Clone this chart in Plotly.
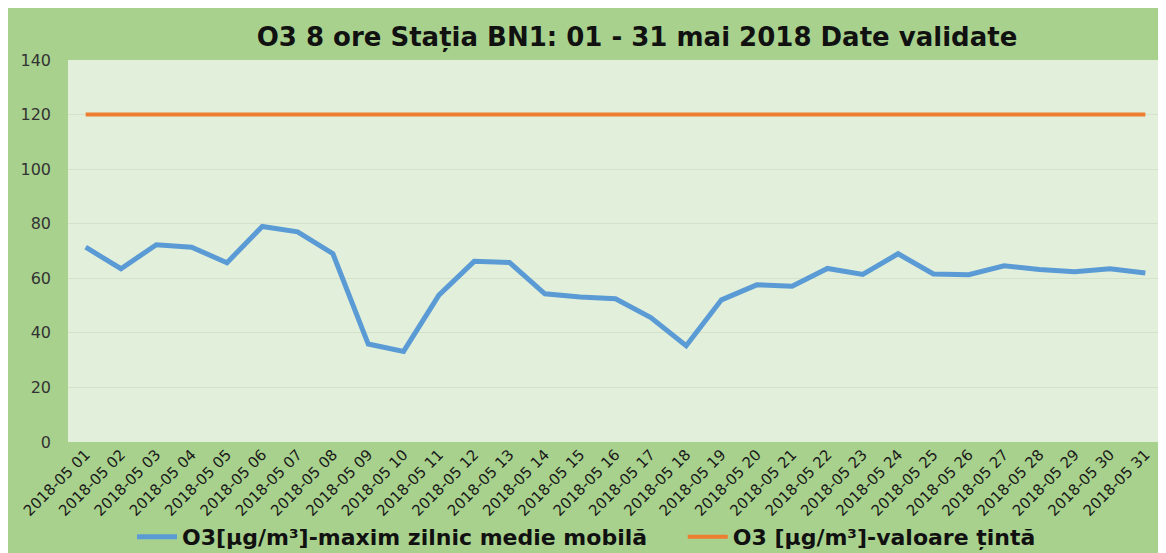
import plotly.graph_objects as go

days = [f"2018-05 {d:02d}" for d in range(1, 32)]
o3_max = [71.4, 63.5, 72.3, 71.4, 65.7, 79.0, 77.0, 69.0, 35.9, 33.2,
          53.8, 66.2, 65.8, 54.3, 53.1, 52.5, 45.6, 35.3, 52.1, 57.6,
          57.1, 63.6, 61.4, 69.0, 61.6, 61.3, 64.6, 63.2, 62.4, 63.5, 61.9]
target = [120] * 31

title_text = "O3 8 ore Stația BN1: 01 - 31 mai 2018 Date validate"
name1 = "O3[µg/m³]-maxim zilnic medie mobilă"
name2 = "O3 [µg/m³]-valoare țintă"

# page has an 8px body margin; figure fills the rest of the window
W, H = 1158, 545
ml, mr, mt, mb = 60, 3, 52, 111

fig = go.Figure()
fig.add_trace(go.Scatter(x=list(range(31)), y=o3_max, mode="lines",
                         name=name1 + "\u00a0" * 4,
                         line=dict(color="#5b9bd5", width=5)))
fig.add_trace(go.Scatter(x=list(range(31)), y=target, mode="lines", name=name2,
                         line=dict(color="#ed7d31", width=4)))

fig.update_layout(
    width=W, height=H,
    margin=dict(l=ml, r=mr, t=mt, b=mb),
    paper_bgcolor="#a9d18e",
    plot_bgcolor="#e2efda",
    font=dict(family="DejaVu Sans, Liberation Sans, sans-serif", color="#262626"),
    title=dict(text="<b>" + title_text + "</b>", x=629 / W, xref="container",
               xanchor="center", y=1 - 29 / H, yanchor="middle",
               font=dict(size=26, color="#111111", family="DejaVu Sans, sans-serif")),
    showlegend=True,
    legend=dict(orientation="h", x=124 / W, xanchor="left", xref="container",
                y=(H - 529) / H, yref="container", yanchor="middle",
                font=dict(size=22, color="#111111", family="DejaVu Sans, sans-serif",
                          weight="bold"),
                itemwidth=40, bgcolor="rgba(0,0,0,0)"),
    xaxis=dict(range=[-0.5, 30.5], tickmode="array", tickvals=list(range(31)),
               ticktext=days, tickangle=-45, showgrid=False, zeroline=False,
               tickfont=dict(size=15, color="#1a1a1a"), ticks="", showline=False,
               automargin=False),
    yaxis=dict(range=[0, 140], dtick=20, tick0=0, showgrid=True,
               gridcolor="#d3e2c9", gridwidth=1, zeroline=False,
               tickfont=dict(size=16, color="#333333"), ticks="",
               ticklabelstandoff=16, automargin=False),
)

fig.write_html("out.html")
